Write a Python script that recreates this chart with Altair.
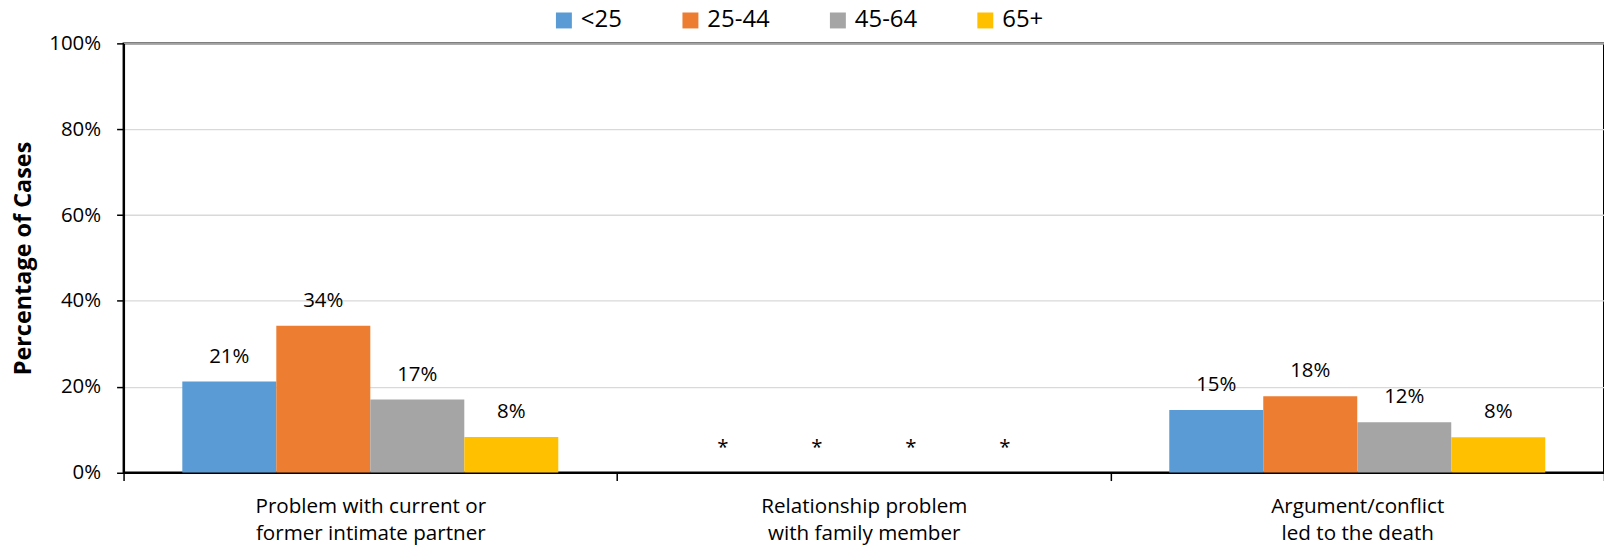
import altair as alt
import pandas as pd

categories = [
    "Problem with current or\nformer intimate partner",
    "Relationship problem\nwith family member",
    "Argument/conflict\nled to the death",
]
age_groups = ["<25", "25-44", "45-64", "65+"]
colors = ["#5B9BD5", "#ED7D31", "#A5A5A5", "#FFC000"]
partner_values = [21.2, 34.2, 17.0, 8.3]
family_values = [None, None, None, None]
argument_values = [14.6, 17.8, 11.7, 8.2]
y_ticks = [0, 20, 40, 60, 80, 100]

rows = []
for cat, vals in zip(categories, [partner_values, family_values, argument_values]):
    for g, v in zip(age_groups, vals):
        rows.append({"category": cat, "age": g, "value": v})
df = pd.DataFrame(rows)

FONT = "Open Sans"

x_enc = alt.X(
    "category:N",
    sort=categories,
    scale=alt.Scale(paddingInner=0, paddingOuter=0),
    axis=alt.Axis(
        title=None,
        labelExpr="split(datum.label, '\\n')",
        labelAngle=0,
        labelLimit=0,
        tickBand="extent",
        tickSize=8,
        tickColor="black",
        tickWidth=1.5,
        domainColor="black",
        domainWidth=2,
        labelFont=FONT,
        labelFontSize=20.7,
        labelLineHeight=26.7,
        labelPadding=16,
        labelColor="black",
        grid=False,
    ),
)
xo_enc = alt.XOffset(
    "age:N", sort=age_groups, scale=alt.Scale(paddingInner=0, paddingOuter=0.625)
)
y_enc = alt.Y(
    "value:Q",
    scale=alt.Scale(domain=[0, 100], nice=False),
    axis=alt.Axis(
        values=y_ticks,
        labelExpr="datum.value + '%'",
        title="Percentage of Cases",
        titleFont=FONT,
        titleFontSize=23.5,
        titleFontWeight="bold",
        titleColor="black",
        titleX=-100,
        titleY=215.4,
        titleBaseline="middle",
        titleAlign="center",
        grid=True,
        gridColor="#d9d9d9",
        gridWidth=1.3,
        tickColor="black",
        tickSize=7,
        tickWidth=1.5,
        domainColor="black",
        domainWidth=2,
        labelFont=FONT,
        labelFontSize=20.5,
        labelPadding=16,
        labelColor="black",
    ),
)

bars = alt.Chart(df).mark_bar().encode(
    x=x_enc,
    xOffset=xo_enc,
    y=y_enc,
    color=alt.Color(
        "age:N",
        sort=age_groups,
        scale=alt.Scale(domain=age_groups, range=colors),
        legend=alt.Legend(
            title=None,
            orient="none",
            legendX=430,
            legendY=-35,
            direction="horizontal",
            columns=4,
            symbolType="square",
            symbolSize=256,
            symbolStrokeWidth=0,
            symbolOpacity=1,
            labelFont=FONT,
            labelFontSize=24,
            labelColor="black",
            labelOffset=5,
            columnPadding=56,
            padding=0,
        ),
    ),
)

labels = (
    alt.Chart(df)
    .transform_calculate(
        label="isValid(datum.value) ? format(datum.value, '.0f') + '%' : '*'",
    )
    .transform_calculate(value="isValid(datum.value) ? datum.value : 0")
    .mark_text(dy=-19, baseline="alphabetic", font=FONT, fontSize=20.5, color="black")
    .encode(
        x=x_enc,
        xOffset=xo_enc,
        y=y_enc,
        text="label:N",
    )
)

chart = (
    alt.layer(bars, labels)
    .properties(
        width=1486,
        height=430.8,
        autosize=alt.AutoSizeParams(type="none"),
        padding={"left": 116, "top": 34.5, "right": 0, "bottom": 75},
    )
    .configure(font=FONT)
    .configure_view(stroke="black", strokeWidth=2)
)

chart.save("out.html", embed_options={"renderer": "svg", "actions": False})
